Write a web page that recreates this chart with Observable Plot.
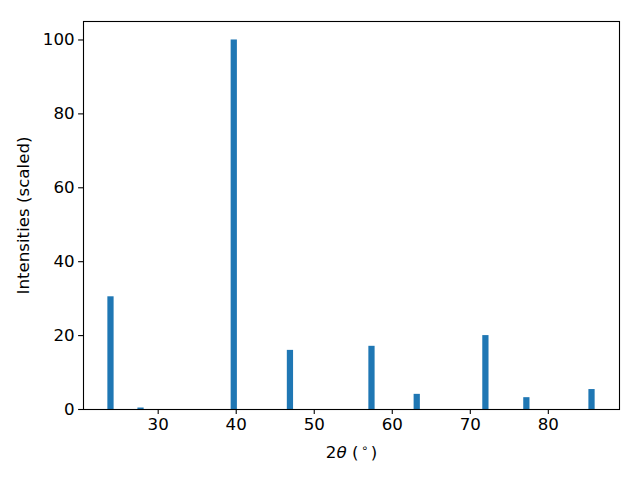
<!DOCTYPE html>
<html>
<head>
<meta charset="utf-8">
<script src="https://cdn.jsdelivr.net/npm/d3@7"></script>
<script src="https://cdn.jsdelivr.net/npm/@observablehq/plot@0.6"></script>
<style>
  html, body { margin: 0; padding: 0; background: #fff; }
  svg { display: block; }
</style>
</head>
<body>
<div id="chart"></div>
<script>
const twoTheta = [23.95, 27.8, 39.75, 46.95, 57.4, 63.2, 72.0, 77.25, 85.6];
const intensity = [30.5, 0.4, 100, 16, 17.1, 4.1, 20, 3.2, 5.4];
const xTicks = [30, 40, 50, 60, 70, 80];
const yTicks = [0, 20, 40, 60, 80, 100];
const barWidth = 0.8;

const data = twoTheta.map((t, i) => ({t, v: intensity[i]}));
const xmin = d3.min(twoTheta) - barWidth / 2, xmax = d3.max(twoTheta) + barWidth / 2;
const pad = (xmax - xmin) * 0.05;
const fs = 16.67;

const chart = Plot.plot({
  width: 640,
  height: 480,
  marginLeft: 83,
  marginRight: 21,
  marginTop: 21,
  marginBottom: 71,
  style: {fontFamily: "DejaVu Sans", fontSize: fs + "px", color: "black", background: "white"},
  x: {domain: [xmin - pad, xmax + pad]},
  y: {domain: [0, d3.max(intensity) * 1.05]},
  marks: [
    Plot.rectY(data, {x1: d => d.t - barWidth / 2, x2: d => d.t + barWidth / 2, y: "v", fill: "#1f77b4"}),
    Plot.axisX({ticks: xTicks, tickSize: 4.9, tickPadding: 4, fontSize: fs, tickFormat: d3.format("d"), label: "2θ (°)", labelAnchor: "center", labelArrow: false, labelOffset: 48, strokeWidth: 1.1}),
    Plot.axisY({ticks: yTicks, tickSize: 4.9, tickPadding: 4, fontSize: fs, tickFormat: d3.format("d"), label: "Intensities (scaled)", labelAnchor: "center", labelArrow: false, labelOffset: 66.5, strokeWidth: 1.1}),
    Plot.frame({stroke: "black", strokeWidth: 1.1})
  ]
});
document.getElementById("chart").appendChild(chart);

const xl = d3.select(chart).select('g[aria-label="x-axis label"] text');
if (!xl.empty()) {
  xl.text(null);
  xl.append("tspan").text("2");
  xl.append("tspan").attr("font-style", "italic").text("θ");
  xl.append("tspan").text(" (");
  xl.append("tspan").attr("font-size", "11.5px").attr("dx", "2.5").attr("dy", "-6").text("∘");
  xl.append("tspan").attr("dx", "2.5").attr("dy", "6").text(")");
}
</script>
</body>
</html>
